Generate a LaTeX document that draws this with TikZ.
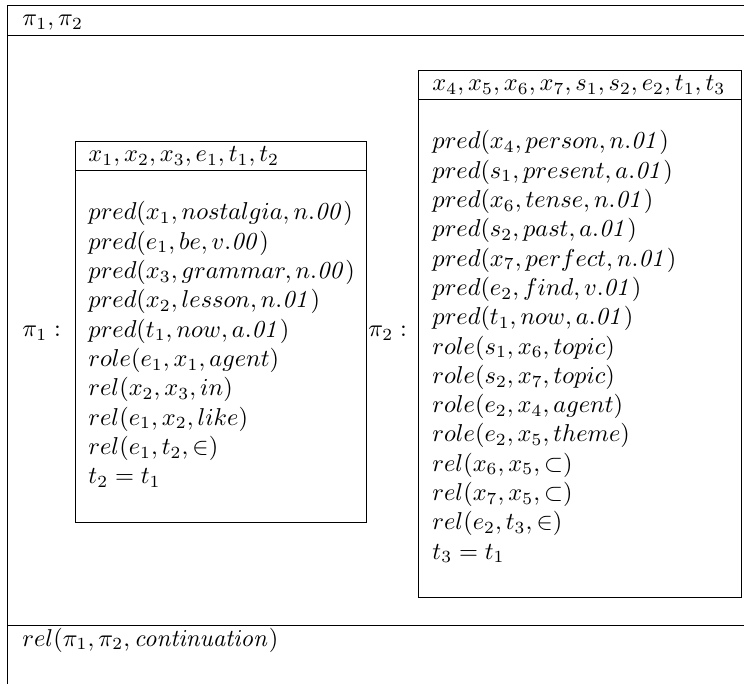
\documentclass[tikz,border=0pt]{standalone}
\begin{document}
\begin{tikzpicture}[x=0.41pt, y=-0.41pt, every node/.style={inner sep=0pt}]
    \useasboundingbox (0,0) rectangle (744,684);
    \clip (0,0) rectangle (744,684);

    \draw (7,5) rectangle (760,700);
    \draw (7,35) -- (760,35);
    \draw (7,625) -- (760,625);
    \node[anchor=base west] (refs) at (22,26) {$\pi_1,\pi_2$};
    \node[anchor=base west] (cont) at (22,646) {$rel(\pi_1,\pi_2,\mathit{continuation})$};

    \begin{scope}
        \node[anchor=west] (pi1) at (22,333) {$\pi_1:$};
        \draw (75,141) rectangle (366,522);
        \draw (75,170) -- (366,170);
        \node[anchor=base west] (head1) at (88,162) {$x_1,x_2,x_3,e_1,t_1,t_2$};
        \foreach \cond [count=\i] in {{pred(x_1,nostalgia,n.\mathit{00})},
                {pred(e_1,be,v.\mathit{00})}, {pred(x_3,grammar,n.\mathit{00})},
                {pred(x_2,lesson,n.\mathit{01})}, {pred(t_1,now,a.\mathit{01})},
                {role(e_1,x_1,agent)}, {rel(x_2,x_3,in)}, {rel(e_1,x_2,like)},
                {rel(e_1,t_2,\in)}, {t_2=t_1}}
            \node[anchor=base west] (l\i) at (88,{220+29.3*(\i-1)}) {$\cond$};
    \end{scope}

    \begin{scope}
        \node[anchor=west] (pi2) at (368,333) {$\pi_2:$};
        \draw (418,70) rectangle (741,597);
        \draw (418,99) -- (741,99);
        \node[anchor=base west] (head2) at (432,91) {$x_4,x_5,x_6,x_7,s_1,s_2,e_2,t_1,t_3$};
        \foreach \cond [count=\i] in {{pred(x_4,person,n.\mathit{01})},
                {pred(s_1,present,a.\mathit{01})}, {pred(x_6,tense,n.\mathit{01})},
                {pred(s_2,past,a.\mathit{01})}, {pred(x_7,perfect,n.\mathit{01})},
                {pred(e_2,find,v.\mathit{01})}, {pred(t_1,now,a.\mathit{01})},
                {role(s_1,x_6,topic)}, {role(s_2,x_7,topic)}, {role(e_2,x_4,agent)},
                {role(e_2,x_5,theme)}, {rel(x_6,x_5,\subset)}, {rel(x_7,x_5,\subset)},
                {rel(e_2,t_3,\in)}, {t_3=t_1}}
            \node[anchor=base west] (r\i) at (432,{149+29.3*(\i-1)}) {$\cond$};
    \end{scope}
\end{tikzpicture}
\end{document}
